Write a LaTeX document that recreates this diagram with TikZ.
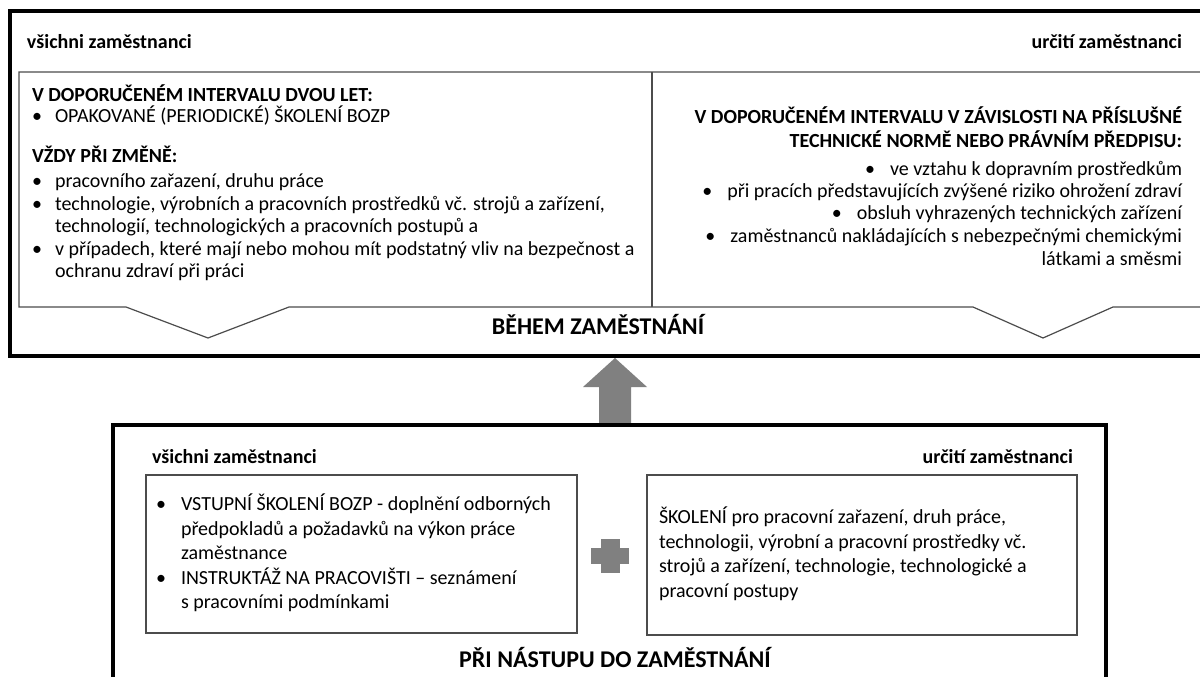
\documentclass[tikz,border=0pt]{standalone}
\usepackage{fontspec}
\setmainfont{Carlito}
\begin{document}
\begin{tikzpicture}[x=1pt,y=-1pt,
  outerbox/.style={draw=black,line width=4pt},
  innerbox/.style={draw=black!70,line width=1.2pt,line join=miter},
  shapefill/.style={fill=black!50,draw=none},
  txt/.style={inner sep=0pt,outer sep=0pt,font=\fontsize{20}{24}\selectfont,text=black},
  lw/.style={txt,anchor=base west},
  le/.style={txt,anchor=base east},
  hd/.style={font=\fontsize{20}{24}\selectfont\bfseries},
  ttl/.style={txt,anchor=base,font=\fontsize{24}{28}\selectfont\bfseries}]
\useasboundingbox (0,0) rectangle (1200,677);
\clip (0,0) rectangle (1200,677);
\fill[white] (0,0) rectangle (1200,677);

% ---------- top panel: BĚHEM ZAMĚSTNÁNÍ ----------
\coordinate (topNW) at (10,11);
\coordinate (topSE) at (1210,356);
\draw[outerbox] (topNW) rectangle (topSE);

\coordinate (inNW) at (19,72);
\draw[innerbox] (inNW) -- (1210,72) -- (1210,307) -- (1113,307) -- (1043,338)
  -- (973,307) -- (289,307) -- (208,338) -- (126,307) -- (19,307) -- cycle;
\draw[innerbox] (652,72) -- (652,307);

\node[lw,hd] (tlab1) at (27,49) {všichni zaměstnanci};
\node[le,hd] (tlab2) at (1182,49) {určití zaměstnanci};

\node[lw,hd] (th1) at (32,102) {V DOPORUČENÉM INTERVALU DVOU LET:};
\node[lw] (tb1) at (32,122) {•};
\node[lw] (tt1) at (55,122) {OPAKOVANÉ (PERIODICKÉ) ŠKOLENÍ BOZP};
\node[lw,hd] (th2) at (32,162) {VŽDY PŘI ZMĚNĚ:};
\node[lw] (tb2) at (32,187) {•};
\node[lw] (tt2) at (55,187) {pracovního zařazení, druhu práce};
\node[lw] (tb3) at (32,210) {•};
\node[lw] (tt3) at (55,210) {technologie, výrobních a pracovních prostředků vč. strojů a zařízení,};
\node[lw] (tt4) at (55,232) {technologií, technologických a pracovních postupů a};
\node[lw] (tb5) at (32,255) {•};
\node[lw] (tt5) at (55,255) {v případech, které mají nebo mohou mít podstatný vliv na bezpečnost a};
\node[lw] (tt6) at (55,277) {ochranu zdraví při práci};

\node[le,hd] (rh1) at (1182,124) {V DOPORUČENÉM INTERVALU V ZÁVISLOSTI NA PŘÍSLUŠNÉ};
\node[le,hd] (rh2) at (1182,147) {TECHNICKÉ NORMĚ NEBO PRÁVNÍM PŘEDPISU:};
\node[le] (rt1) at (1182,175) {•\hspace{15pt}ve vztahu k dopravním prostředkům};
\node[le] (rt2) at (1182,197) {•\hspace{15pt}při pracích představujících zvýšené riziko ohrožení zdraví};
\node[le] (rt3) at (1182,219) {•\hspace{15pt}obsluh vyhrazených technických zařízení};
\node[le] (rt4) at (1182,242) {•\hspace{15pt}zaměstnanců nakládajících s nebezpečnými chemickými};
\node[le] (rt5) at (1182,265) {látkami a směsmi};

\node[ttl] (ttitle) at (598,334) {BĚHEM ZAMĚSTNÁNÍ};

% ---------- arrow ----------
\coordinate (arrTip) at (615,358);
\fill[shapefill] (arrTip) -- (647,387) -- (631,387) -- (631,423) -- (599,423)
  -- (599,387) -- (583,387) -- cycle;

% ---------- bottom panel: PŘI NÁSTUPU DO ZAMĚSTNÁNÍ ----------
\coordinate (botNW) at (113,425);
\coordinate (botSE) at (1106,700);
\draw[outerbox] (botNW) rectangle (botSE);

\draw[innerbox] (146,475) rectangle (577,633);
\draw[innerbox] (647,475) rectangle (1077,635);

\node[lw,hd] (blab1) at (152,463) {všichni zaměstnanci};
\node[le,hd] (blab2) at (1073,463) {určití zaměstnanci};

\node[lw] (bb1) at (156,510) {•};
\node[lw] (bt1) at (181,510) {VSTUPNÍ ŠKOLENÍ BOZP - doplnění odborných};
\node[lw] (bt2) at (181,535) {předpokladů a požadavků na výkon práce};
\node[lw] (bt3) at (181,559) {zaměstnance};
\node[lw] (bb4) at (156,584) {•};
\node[lw] (bt4) at (181,584) {INSTRUKTÁŽ NA PRACOVIŠTI – seznámení};
\node[lw] (bt5) at (181,608) {s pracovními podmínkami};

\node[lw] (rt6) at (659,523) {ŠKOLENÍ pro pracovní zařazení, druh práce,};
\node[lw] (rt7) at (659,548) {technologii, výrobní a pracovní prostředky vč.};
\node[lw] (rt8) at (659,572) {strojů a zařízení, technologie, technologické a};
\node[lw] (rt9) at (659,597) {pracovní postupy};

\fill[shapefill] (601,539) rectangle (620,573);
\fill[shapefill] (591,548) rectangle (629,564);

\node[ttl] (btitle) at (615,667) {PŘI NÁSTUPU DO ZAMĚSTNÁNÍ};
\end{tikzpicture}
\end{document}
